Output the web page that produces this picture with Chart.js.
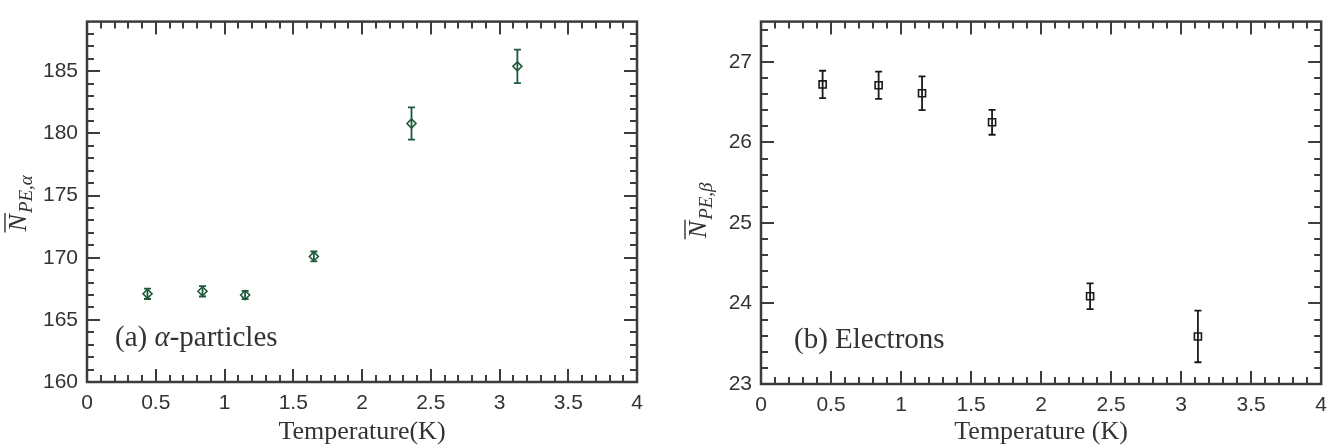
<!DOCTYPE html>
<html>
<head>
<meta charset="utf-8">
<script src="https://cdn.jsdelivr.net/npm/chart.js@4/dist/chart.umd.min.js"></script>
<style>
  html, body { margin: 0; padding: 0; background: #fff; }
  #wrap { display: flex; width: 1336px; height: 446px; }
  canvas { display: block; }
</style>
</head>
<body>
<div id="wrap">
  <canvas id="alpha" width="668" height="446"></canvas>
  <canvas id="beta" width="668" height="446"></canvas>
</div>
<script>
// values
const tempAlpha = [0.44, 0.84, 1.15, 1.65, 2.36, 3.13]
const npeAlpha = [167.1, 167.3, 167.0, 170.1, 180.8, 185.4]
const errAlpha = [0.42, 0.42, 0.33, 0.4, 1.3, 1.35]

const tempBeta = [0.44, 0.84, 1.15, 1.65, 2.35, 3.12]
const npeBeta = [26.72, 26.71, 26.61, 26.25, 24.09, 23.59]
const errBeta = [0.17, 0.17, 0.21, 0.155, 0.16, 0.32]

const xTicks = [0, 0.5, 1, 1.5, 2, 2.5, 3, 3.5, 4]
const yTicksAlpha = [160, 165, 170, 175, 180, 185]
const yTicksBeta = [23, 24, 25, 26, 27]

const SANS = "'Liberation Sans', Arial, sans-serif"
const SERIF = "'Liberation Serif', 'Times New Roman', serif"
const AXIS = '#3c3c3c'

// vertical error bars with small caps
const errorBars = {
  id: 'errorBars',
  afterDatasetsDraw(chart, args, opts) {
    const {ctx, scales: {x, y}} = chart
    const ds = chart.data.datasets[0]
    ctx.save()
    ctx.strokeStyle = ds.borderColor
    ctx.lineWidth = 1.8
    ds.data.forEach((p, i) => {
      const px = x.getPixelForValue(p.x)
      const top = y.getPixelForValue(p.y + opts.err[i])
      const bot = y.getPixelForValue(p.y - opts.err[i])
      ctx.beginPath()
      ctx.moveTo(px, top); ctx.lineTo(px, bot)
      ctx.moveTo(px - 3.5, top); ctx.lineTo(px + 3.5, top)
      ctx.moveTo(px - 3.5, bot); ctx.lineTo(px + 3.5, bot)
      ctx.stroke()
    })
    ctx.restore()
  }
}

// box frame + inward major/minor ticks on all four sides
const frame = {
  id: 'frame',
  afterDraw(chart, args, o) {
    const {ctx, chartArea: a, scales: {x, y}} = chart
    ctx.save()
    ctx.strokeStyle = AXIS
    ctx.lineWidth = 2
    ctx.beginPath()
    const nx = Math.round((x.max - x.min) / o.xMinor)
    for (let i = 1; i < nx; i++) {
      const v = x.min + i * o.xMinor
      const len = i % o.xEvery == 0 ? 13 : 7
      const px = Math.round(x.getPixelForValue(v))
      ctx.moveTo(px, a.bottom); ctx.lineTo(px, a.bottom - len)
      ctx.moveTo(px, a.top); ctx.lineTo(px, a.top + len)
    }
    const ny = Math.round((y.max - y.min) / o.yMinor)
    for (let i = 1; i < ny; i++) {
      const v = y.min + i * o.yMinor
      const len = i % o.yEvery == 0 ? 13 : 7
      const py = Math.round(y.getPixelForValue(v))
      ctx.moveTo(a.left, py); ctx.lineTo(a.left + len, py)
      ctx.moveTo(a.right, py); ctx.lineTo(a.right - len, py)
    }
    ctx.stroke()
    ctx.lineWidth = 2.5
    ctx.strokeRect(a.left, a.top, a.right - a.left, a.bottom - a.top)
    ctx.restore()
  }
}

// y title: N with overline and italic subscript, rotated
const yTitle = {
  id: 'yTitle',
  afterDraw(chart, args, o) {
    const {ctx, chartArea: a} = chart
    ctx.save()
    ctx.fillStyle = '#333'
    ctx.strokeStyle = '#333'
    ctx.translate(o.x, (a.top + a.bottom) / 2 + o.dy)
    ctx.rotate(-Math.PI / 2)
    ctx.font = 'italic 26px ' + SERIF
    const wN = ctx.measureText('N').width
    ctx.font = 'italic 19px ' + SERIF
    const wS = ctx.measureText(o.sub).width
    const x0 = -(wN + wS) / 2
    ctx.textBaseline = 'alphabetic'
    ctx.font = 'italic 26px ' + SERIF
    ctx.fillText('N', x0, 0)
    ctx.lineWidth = 1.4
    ctx.beginPath()
    ctx.moveTo(x0 - 1, -21); ctx.lineTo(x0 + wN + 1, -21)
    ctx.stroke()
    ctx.font = 'italic 19px ' + SERIF
    ctx.fillText(o.sub, x0 + wN + 1, 6)
    ctx.restore()
  }
}

// panel label inside the plot
const panelLabel = {
  id: 'panelLabel',
  afterDraw(chart, args, o) {
    const {ctx, chartArea: a} = chart
    ctx.save()
    ctx.fillStyle = '#333'
    ctx.textBaseline = 'alphabetic'
    let px = a.left + o.dx
    const py = a.bottom + o.dy
    o.parts.forEach(([txt, italic]) => {
      ctx.font = (italic ? 'italic ' : '') + '29px ' + SERIF
      ctx.fillText(txt, px, py)
      px += ctx.measureText(txt).width
    })
    ctx.restore()
  }
}

function makeChart(id, c) {
  return new Chart(document.getElementById(id), {
    type: 'scatter',
    data: {
      datasets: [{
        data: c.xs.map((v, i) => ({x: v, y: c.ys[i]})),
        borderColor: c.color,
        backgroundColor: 'rgba(0,0,0,0)',
        borderWidth: 1.6,
        pointStyle: c.marker,
        pointRadius: c.radius,
        pointHoverRadius: c.radius
      }]
    },
    plugins: [errorBars, frame, yTitle, panelLabel],
    options: {
      responsive: false,
      animation: false,
      layout: {padding: {left: 0, top: c.top, right: c.right, bottom: 0}},
      plugins: {
        legend: {display: false},
        tooltip: {enabled: false},
        errorBars: {err: c.err},
        frame: {xMinor: 0.1, xEvery: 5, yMinor: c.yMinor, yEvery: c.yEvery},
        yTitle: {x: c.titleX, dy: c.titleDy, sub: c.sub},
        panelLabel: {dx: c.labelDx, dy: -36, parts: c.label}
      },
      scales: {
        x: {
          type: 'linear', min: 0, max: 4,
          afterBuildTicks: s => { s.ticks = xTicks.map(v => ({value: v})) },
          afterFit: s => { s.height = 446 - c.bottom },
          grid: {display: false, drawTicks: false},
          border: {display: false},
          ticks: {padding: 9, color: '#333', font: {family: SANS, size: 21}, callback: v => String(v), maxRotation: 0},
          title: {display: true, text: c.xTitle, color: '#333', padding: {top: 0, bottom: 1},
                  font: {family: SERIF, size: 26, lineHeight: 1}}
        },
        y: {
          type: 'linear', min: c.yMin, max: c.yMax,
          afterBuildTicks: s => { s.ticks = c.yTicks.map(v => ({value: v})) },
          afterFit: s => { s.width = c.left },
          grid: {display: false, drawTicks: false},
          border: {display: false},
          ticks: {padding: 9, color: '#333', font: {family: SANS, size: 21}}
        }
      }
    }
  })
}

makeChart('alpha', {
  xs: tempAlpha, ys: npeAlpha, err: errAlpha,
  color: '#1d5a3a', marker: 'rectRot', radius: 4.5,
  left: 87, right: 31, top: 13, bottom: 382,
  yMin: 160, yMax: 189, yTicks: yTicksAlpha, yMinor: 1, yEvery: 5,
  xTitle: 'Temperature(K)', sub: 'PE,α', titleX: 26, titleDy: 2,
  labelDx: 28, label: [['(a) ', false], ['α', true], ['-particles', false]]
})

makeChart('beta', {
  xs: tempBeta, ys: npeBeta, err: errBeta,
  color: '#1a1a1a', marker: 'rect', radius: 5,
  left: 93, right: 13, top: 9, bottom: 384,
  yMin: 23, yMax: 27.5, yTicks: yTicksBeta, yMinor: 0.2, yEvery: 5,
  xTitle: 'Temperature (K)', sub: 'PE,β', titleX: 38, titleDy: 8,
  labelDx: 33, label: [['(b) Electrons', false]]
})
</script>
</body>
</html>
